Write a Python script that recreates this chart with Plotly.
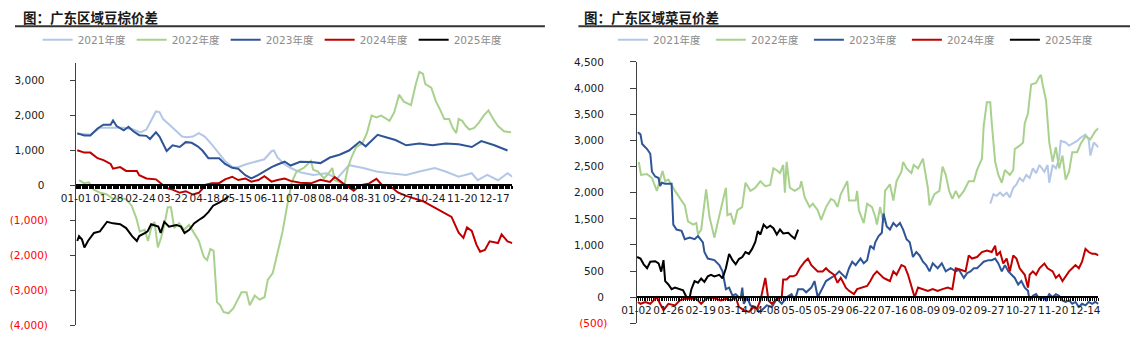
import plotly.graph_objects as go

W, H = 1132, 341

# ---------------- data: 广东区域豆棕价差 (x = day of year, leap-year calendar) ----------------
sp_ticks = ["01-01", "01-28", "02-24", "03-22", "04-18", "05-15", "06-11", "07-08",
            "08-04", "08-31", "09-27", "10-24", "11-20", "12-17"]
sp_tick_days = [0, 27, 54, 81, 108, 135, 162, 189, 216, 243, 270, 297, 324, 351]

sp21_day = [1, 12, 20, 30, 40, 48, 54, 59, 64, 67, 70, 73, 77, 81, 85, 89, 93, 98, 103, 108,
            114, 120, 125, 131, 136, 142, 147, 153, 158, 164, 166, 169, 175, 180, 188, 199, 210,
            219, 229, 241, 252, 263, 277, 288, 301, 310, 321, 332, 337, 345, 354, 362, 366]
sp21_val = [1490, 1450, 1650, 1640, 1650, 1600, 1520, 1600, 1900, 2120, 2100, 1900, 1780, 1650,
            1520, 1400, 1380, 1400, 1500, 1400, 1170, 900, 700, 525, 520, 600, 650, 710, 750, 980,
            1000, 800, 600, 500, 380, 300, 350, 200, 580, 500, 400, 350, 300, 400, 500, 400, 250,
            350, 150, 300, 150, 350, 250]

sp22_day = [2.5, 6.6, 10.7, 14.9, 20.4, 25.9, 31.4, 36.9, 42.4, 46.6, 50.7, 53.4, 57.6, 60.3, 63,
            65.8, 68.6, 71.3, 74.1, 76.9, 79.6, 82.4, 86.5, 90.6, 94.8, 98.9, 103, 107.2, 109.9,
            112.7, 115.4, 118.2, 120.9, 123.7, 127.8, 131.9, 136.1, 138.8, 143, 145.7, 149.9, 154,
            158.1, 160.9, 165, 169.1, 173.3, 177, 181, 185, 191, 197, 199, 203, 208, 212, 215, 217,
            221, 225, 228, 231, 235, 240, 244, 248, 252, 256, 260, 263, 267, 271, 275, 281, 285,
            288, 291, 293, 298, 302, 305, 309, 313, 316, 319, 321, 324, 327, 330, 334, 338, 342,
            346, 350, 354, 359, 365]
sp22_val = [155, 65, 90, -120, -210, -260, -395, -350, -400, -580, -950, -1315, -1270, -1590,
            -1220, -1040, -1775, -1500, -1130, -625, -625, -1220, -1085, -1270, -1130, -1360,
            -1590, -2050, -2140, -1820, -1870, -3340, -3430, -3620, -3660, -3520, -3250, -3060,
            -3060, -3430, -3150, -3270, -3200, -2700, -2510, -1960, -1315, -600, 100, 400, 500,
            700, 450, 400, 200, 350, 500, 150, 100, 0, 500, 800, 1100, 1200, 1500, 2000, 1950,
            2000, 1900, 1850, 2100, 2600, 2400, 2300, 2900, 3250, 3200, 2900, 2800, 2400, 2200,
            1900, 1900, 1650, 1500, 1900, 1850, 1700, 1600, 1650, 1800, 2000, 2150, 1900, 1700,
            1550, 1520]

sp23_day = [1, 7, 12, 18, 23, 29, 31, 34, 40, 44, 48, 53, 59, 62, 67, 70, 76, 81, 87, 92, 97, 102,
            106, 111, 120, 125, 131, 136, 142, 147, 153, 158, 164, 169, 175, 180, 188, 197, 205,
            213, 221, 229, 238, 243, 253, 260, 268, 277, 288, 299, 310, 321, 332, 340, 351, 362]
sp23_val = [1490, 1430, 1430, 1630, 1740, 1740, 1860, 1700, 1580, 1680, 1550, 1440, 1420, 1330,
            1520, 1400, 985, 1150, 1100, 1240, 1220, 1120, 1000, 780, 780, 615, 505, 480, 295, 200,
            300, 400, 525, 600, 680, 570, 680, 670, 640, 800, 880, 1000, 1250, 1120, 1450, 1380,
            1300, 1150, 1200, 1150, 1200, 1180, 1100, 1270, 1150, 1000]

sp24_day = [1, 7, 12, 18, 23, 29, 31, 37, 42, 51, 53, 59, 67, 71, 76, 81, 87, 92, 98, 103, 109, 114,
            120, 125, 131, 136, 142, 147, 153, 158, 164, 169, 175, 180, 188, 197, 205, 213, 217,
            224, 229, 233, 238, 246, 252, 257, 263, 270, 277, 282, 291, 299, 307, 315, 321, 325,
            328, 332, 336, 339, 343, 347, 354, 357, 362, 366]
sp24_val = [1010, 940, 940, 780, 725, 615, 480, 525, 415, 415, 295, 200, 175, 65, -75, -120, -210,
            -165, -260, -210, 20, 65, 65, 175, 250, 155, 200, 110, 155, 265, 110, 155, 200, 130,
            75, 60, 165, 100, 240, 60, -50, -150, 0, 60, 190, 0, 0, -200, -300, -350, -450, -600,
            -750, -900, -1350, -1500, -1200, -1300, -1700, -1900, -1850, -1600, -1650, -1400,
            -1600, -1650]

sp25_day = [1, 2.5, 5, 7, 10, 15, 20, 26, 31, 37, 42, 47, 51, 53, 58, 60, 63, 69, 71, 74, 78, 84,
            88, 91, 95, 99, 103, 107, 111, 115, 120, 125, 128]
sp25_val = [-1590, -1450, -1550, -1775, -1590, -1360, -1315, -1040, -1085, -1110, -1220, -1450,
            -1590, -1450, -1360, -1315, -1110, -1180, -1360, -1040, -1180, -1130, -1180, -1360,
            -1270, -1085, -990, -900, -765, -580, -490, -395, -300]

sp_yticks = [-4000, -3000, -2000, -1000, 0, 1000, 2000, 3000]

# ---------------- data: 广东区域菜豆价差 (x = trading-day index) ----------------
rs_ticks = ["01-02", "01-26", "02-19", "03-14", "04-08", "05-05", "05-29", "06-22", "07-16",
            "08-09", "09-02", "09-27", "10-27", "11-20", "12-14"]
rs_tick_idx = [0, 17, 34, 51, 68, 85, 102, 119, 136, 153, 170, 187, 204, 221, 238]

rs21_idx = [187.6, 189.3, 191, 192.8, 194.5, 196.3, 198, 199.8, 201.5, 203.2, 205, 206.7, 208.5,
            210.2, 211.9, 213.7, 216.3, 218, 218.9, 220.7, 222.4, 224.1, 225, 227.6, 229.4, 231.1,
            233.7, 235.5, 238.1, 239.8, 240.7, 242.5, 245]
rs21_val = [1790, 1970, 1940, 2000, 1940, 2000, 1910, 2095, 2160, 2280, 2220, 2340, 2280, 2465,
            2375, 2530, 2400, 2530, 2190, 2530, 2465, 2650, 2990, 2960, 2900, 2930, 2990, 3050,
            3110, 3020, 2710, 2960, 2870]

rs22_idx = [1.2, 2.4, 5.6, 8.2, 10.8, 13.8, 15.2, 16.9, 20.4, 23.9, 25.6, 27.3, 30, 31.7, 32.6,
            34.3, 36.9, 38.7, 41.3, 43, 45.6, 47.4, 48.2, 50, 51.7, 53.5, 56, 57.8, 60.4, 63, 65.7,
            68.3, 70.9, 72.6, 74.4, 76.1, 77.8, 78.7, 79.6, 81.3, 83.9, 86.6, 87.4, 89.2, 91.8,
            93.5, 96.1, 97.9, 100.5, 103.1, 104.8, 106.6, 108.3, 110.1, 111.8, 112.7, 116.2, 117,
            117.9, 120.5, 122.3, 124.9, 126.6, 127.5, 129.2, 131, 131.8, 134.4, 136.2, 137.9,
            140.5, 141.4, 143.2, 145.8, 147, 149.3, 151.9, 154.5, 155.4, 158, 160.6, 162.3, 164,
            165.8, 167.5, 169.3, 171, 173.6, 176.2, 178.9, 180.6, 183.2, 184.1, 185.8, 187.6,
            188.4, 190.2, 191.9, 193.7, 195.4, 198, 199.8, 200.6, 203.2, 205, 205.9, 207.6, 209.3,
            211.9, 213.7, 214.5, 215.4, 217.2, 218.9, 220.7, 222.4, 224.1, 225.9, 227.6, 229.4,
            231.1, 233.7, 235.5, 238.1, 240.7, 243.3, 245]
rs22_val = [2590, 2340, 2355, 2280, 2035, 2415, 2220, 2250, 2035, 1850, 1757, 1450, 1390, 1420,
            1200, 1295, 2065, 1540, 1140, 1420, 1850, 2095, 1570, 1600, 1390, 1665, 1725, 2190,
            2035, 2095, 2220, 2125, 2150, 2465, 2430, 2375, 2530, 2000, 2590, 2095, 2035, 2095,
            2220, 1910, 1725, 1790, 1665, 1480, 1725, 1880, 1850, 1725, 1970, 2095, 2220, 1850,
            1850, 2035, 1665, 1420, 1790, 1725, 1540, 1390, 1725, 1420, 2035, 2160, 1850, 2220,
            2400, 2590, 2465, 2375, 2530, 2465, 2650, 2095, 1757, 1970, 2035, 2500, 2340, 2035,
            1880, 2035, 1910, 2035, 2220, 2220, 2435, 2650, 3270, 3730, 3730, 3330, 2590, 2340,
            2190, 2435, 2340, 2435, 2835, 2900, 2960, 3330, 3515, 4070, 4100, 4220, 4250, 4070,
            3760, 2960, 2590, 2870, 2465, 2710, 2250, 2400, 2775, 2775, 2930, 3080, 3020, 3175,
            3235]

rs23_idx = [0.7, 2.1, 3, 5.6, 7.3, 8.2, 9.9, 11.7, 12.5, 13.4, 15.2, 18.6, 19.5, 21.2, 23.9, 25.6,
            28.2, 30.8, 32.6, 35.2, 36, 37.8, 41.3, 43.9, 45.6, 47.4, 49.1, 50.9, 52.6, 55.2, 56.1,
            56.9, 58.7, 60.4, 63, 64.8, 66.5, 69.1, 71.8, 74.4, 77, 79.6, 82.2, 83.9, 85.7, 88.3,
            90, 92.7, 94.4, 96.1, 97.9, 100.5, 103.1, 105.7, 107.5, 109.2, 111, 112.7, 114.4,
            116.2, 118.8, 120.5, 122.3, 124, 125.8, 126.6, 128.4, 130.1, 131, 132.7, 134.4, 136.2,
            137.9, 139.7, 141.4, 143.2, 144.9, 146.6, 148.4, 150.1, 151.9, 153.6, 155.4, 157.1,
            159.7, 161.9, 164, 166.6, 169.3, 171, 173.6, 175.3, 177.1, 178.9, 180.6, 182.3, 184.1,
            186.7, 188.4, 190.2, 191.9, 193.7, 195.4, 197.2, 199, 200.6, 202.4, 204.1, 205.9,
            207.6, 208.5, 210.2, 211.9, 213.7, 215.4, 217.2, 218.9, 220.7, 222.4, 224.1, 225.9,
            227.6, 229.4, 231.1, 232.8, 234.6, 236.3, 238.1, 239.8, 241.6, 243.3, 245]
rs23_val = [3155, 3115, 2930, 2835, 2745, 2400, 2310, 2280, 2125, 2190, 2170, 2170, 1390, 1295,
            1270, 1110, 1140, 1110, 1170, 1050, 865, 740, 710, 615, 495, 155, 185, 30, 60, -30,
            185, -125, 0, -155, -185, -280, -245, -155, -185, -30, -125, 0, 60, -60, 155, 155, 95,
            185, 310, 0, 125, 310, 370, 430, 495, 430, 370, 555, 680, 615, 740, 650, 710, 985, 925,
            1050, 1170, 1235, 1600, 1355, 1295, 1420, 1355, 1420, 1295, 1110, 1050, 770, 865, 800,
            680, 615, 495, 650, 555, 650, 495, 555, 495, 525, 370, 460, 495, 555, 555, 615, 680,
            710, 710, 740, 647, 495, 615, 495, 430, 370, 245, 310, 185, 125, -60, 30, 60, -30, 0,
            -60, 60, 0, 60, 30, -60, -90, -60, -125, -90, -185, -125, -155, -90, -125, -90, -125]

rs24_idx = [0.7, 2.1, 4.7, 7.3, 9.1, 10.8, 12.5, 14.3, 16.9, 20.4, 23, 25.6, 29.1, 31.7, 34.3,
            36.9, 39.5, 42.1, 44.8, 47.4, 50, 52.6, 54.3, 56.9, 59.6, 62.2, 63.9, 65.7, 68.3, 70,
            71.8, 74.4, 77, 77.8, 79.6, 81.3, 83.1, 84.8, 86.6, 89.2, 90.9, 92.7, 94.4, 96.1, 98.7,
            100.5, 102.2, 104.8, 106.6, 108.3, 109.2, 111, 112.7, 115.3, 117, 119.6, 122.3, 124,
            125.8, 127.5, 129.2, 131, 132.7, 134.4, 136.2, 137.9, 140.5, 142.3, 144, 145.8, 147.5,
            149.3, 151.9, 154.5, 157.1, 159.7, 162.3, 165, 167.5, 169.3, 171.9, 174.5, 176.2,
            177.9, 180.6, 183.2, 185.8, 188.4, 190.2, 191, 192.8, 194.5, 196.3, 198, 199.8, 201.5,
            203.2, 205.9, 207.6, 208.5, 210.2, 211.9, 213.7, 216.3, 218, 220.7, 222.4, 224.1,
            225.9, 227.6, 229.4, 231.1, 232.8, 234.6, 236.3, 238.1, 239.8, 241.6, 243.3, 245]
rs24_val = [-90, -125, -90, -125, -60, 0, -125, -245, -125, -155, -60, -30, -30, -30, -125, -30, 0,
            -30, -60, -30, -60, 0, -185, -245, -280, -185, -215, -60, 370, -60, -125, -30, 0, 340,
            340, 400, 400, 430, 555, 680, 740, 615, 555, 495, 495, 555, 495, 430, 277, 370, 310,
            185, 123, 60, 155, 185, 215, 310, 430, 495, 430, 370, 340, 310, 495, 430, 615, 585,
            430, 185, 0, 185, 155, 123, 155, 123, 155, 185, 155, 555, 525, 495, 800, 740, 770, 865,
            895, 865, 985, 800, 865, 647, 740, 495, 800, 740, 555, 430, 185, 430, 495, 430, 555,
            647, 555, 495, 370, 430, 310, 400, 495, 555, 615, 555, 680, 925, 865, 830, 830, 800]

rs25_idx = [0.3, 2.1, 3.8, 5.6, 7.3, 9.9, 11.7, 13.1, 14.3, 15.2, 16.9, 18.6, 20.4, 23, 24.7,
            26.5, 28.2, 29.1, 30.8, 32.6, 34.3, 36, 37.8, 39.5, 41.3, 43.9, 45.6, 47.4, 49.1, 50.9,
            52.6, 54.3, 56.1, 57.8, 59.6, 61.3, 63, 64.3, 65.7, 67.4, 69.1, 70.9, 72.6, 74.4, 76.1,
            77.8, 80.5, 82.2, 83.9, 85.7]
rs25_val = [770, 740, 630, 555, 680, 690, 650, 490, 710, 310, 245, 155, 185, 155, 135, 0, 0, 155,
            310, 280, 360, 295, 400, 430, 400, 430, 360, 555, 830, 710, 630, 730, 770, 865, 830,
            925, 1060, 1265, 1200, 1390, 1325, 1370, 1320, 1200, 1295, 1220, 1235, 1170, 1120,
            1295]

rs_yticks = [-500, 0, 500, 1000, 1500, 2000, 2500, 3000, 3500, 4000, 4500]

series_names = ["2021年度", "2022年度", "2023年度", "2024年度", "2025年度"]
series_colors = ["#B4C7E7", "#A9D18E", "#2F5597", "#C00000", "#000000"]


def fmt(v):
    if v < 0:
        return '<span style="color:#FF0000">(' + f"{-v:,}" + ')</span>'
    return f"{v:,}" + "\u2004"


def px(p):
    return p / W


def py(p):
    return 1 - p / H


fig = go.Figure()

left = [(sp21_day, sp21_val), (sp22_day, sp22_val), (sp23_day, sp23_val),
        (sp24_day, sp24_val), (sp25_day, sp25_val)]
right = [(rs21_idx, rs21_val), (rs22_idx, rs22_val), (rs23_idx, rs23_val),
         (rs24_idx, rs24_val), (rs25_idx, rs25_val)]

for (xs, ys), name, col in zip(left, series_names, series_colors):
    fig.add_trace(go.Scatter(x=xs, y=ys, mode="lines", name=name, xaxis="x", yaxis="y",
                             legend="legend", line=dict(color=col, width=2)))
for (xs, ys), name, col in zip(right, series_names, series_colors):
    fig.add_trace(go.Scatter(x=xs, y=ys, mode="lines", name=name, xaxis="x2", yaxis="y2",
                             legend="legend2", line=dict(color=col, width=2)))

tickfont = dict(family="DejaVu Sans", size=10.5, color="#1a1a1a")
legfont = dict(family="DejaVu Sans, Noto Sans CJK SC", size=10.5, color="#8c8c8c")

fig.update_layout(
    width=W, height=H, margin=dict(l=0, r=0, t=0, b=0),
    paper_bgcolor="white", plot_bgcolor="white", showlegend=True,
    xaxis=dict(domain=[px(62), px(505)], range=[0, 366.1], anchor="free", position=py(186),
               showline=True, linecolor="black", linewidth=2, showgrid=False, zeroline=False,
               tickmode="array", tickvals=sp_tick_days, ticktext=sp_ticks, tickangle=0,
               ticks="outside", ticklen=3, tickcolor="black", tickfont=tickfont,
               minor=dict(ticks="outside", tickmode="linear", tick0=0, dtick=1, ticklen=3,
                          tickcolor="black", tickwidth=1, showgrid=False)),
    yaxis=dict(domain=[py(330.8), py(59.3)], range=[-4000, 3500], anchor="x",
               showline=True, linecolor="#404040", linewidth=1, showgrid=False, zeroline=False,
               tickmode="array", tickvals=sp_yticks, ticktext=[fmt(v) for v in sp_yticks],
               ticks="outside", ticklen=5, tickcolor="#404040", tickfont=tickfont,
               ticklabelstandoff=20),
    xaxis2=dict(domain=[px(631), px(1100)], range=[0, 245], anchor="free", position=py(302),
                showline=True, linecolor="black", linewidth=2, showgrid=False, zeroline=False,
                tickmode="array", tickvals=rs_tick_idx, ticktext=rs_ticks, tickangle=0,
                ticks="outside", ticklen=3, tickcolor="black", tickfont=tickfont,
                minor=dict(ticks="outside", tickmode="linear", tick0=0, dtick=1, ticklen=3,
                           tickcolor="black", tickwidth=1, showgrid=False)),
    yaxis2=dict(domain=[py(329), py(58)], range=[-500, 4500], anchor="x2",
                showline=True, linecolor="#404040", linewidth=1, showgrid=False, zeroline=False,
                tickmode="array", tickvals=rs_yticks, ticktext=[fmt(v) for v in rs_yticks],
                ticks="outside", ticklen=6, tickcolor="#404040", tickfont=tickfont,
                ticklabelstandoff=20),
    legend=dict(orientation="h", x=px(23), y=py(35), xanchor="left", yanchor="middle",
                font=legfont, entrywidth=49, bgcolor="rgba(0,0,0,0)", borderwidth=0,
                itemclick=False),
    legend2=dict(orientation="h", x=px(607), y=py(35), xanchor="left", yanchor="middle",
                 font=legfont, entrywidth=53, bgcolor="rgba(0,0,0,0)", borderwidth=0,
                 itemclick=False),
)

titlefont = dict(family="Noto Sans CJK SC", size=13.5, color="#1a1a1a")
fig.add_annotation(text="<b>图：广东区域豆棕价差</b>", xref="paper", yref="paper",
                   x=px(6), y=py(11.5), xanchor="left", yanchor="middle", showarrow=False,
                   font=titlefont)
fig.add_annotation(text="<b>图：广东区域菜豆价差</b>", xref="paper", yref="paper",
                   x=px(576), y=py(11.5), xanchor="left", yanchor="middle", showarrow=False,
                   font=titlefont)
fig.add_shape(type="line", xref="paper", yref="paper", x0=0, x1=px(538), y0=py(21), y1=py(21),
              line=dict(color="#333333", width=2))
fig.add_shape(type="line", xref="paper", yref="paper", x0=px(572), x1=1, y0=py(21), y1=py(21),
              line=dict(color="#333333", width=2))

fig.write_html("out.html")
